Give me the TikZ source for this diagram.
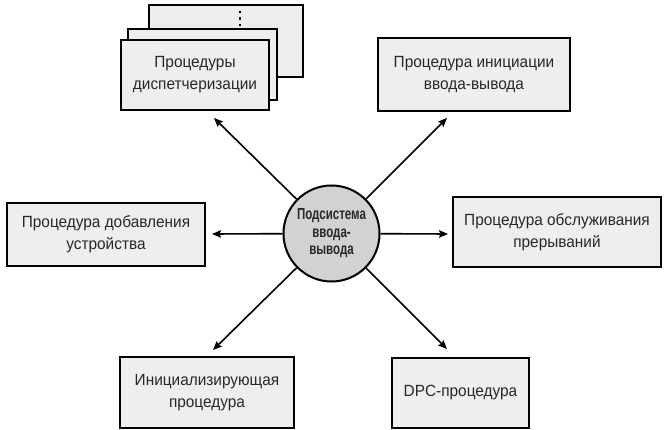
\documentclass[tikz,border=0pt]{standalone}
\usepackage{fontspec}
\setmainfont{Liberation Sans}
\usetikzlibrary{arrows.meta}
\definecolor{boxgray}{RGB}{238,238,238}
\definecolor{hubgray}{RGB}{210,210,210}
\definecolor{inkgray}{RGB}{40,40,40}
\begin{document}
\begin{tikzpicture}[x=1pt,y=-1pt,
  proc/.style={draw=black, line width=2pt, fill=boxgray, inner sep=0pt,
    align=center, text=inkgray,
    font=\addfontfeature{FakeStretch=0.95}\fontsize{16.2}{21.8}\selectfont},
  hub/.style={circle, draw=black, line width=2pt, fill=hubgray, inner sep=0pt,
    minimum size=96pt, align=center, text=inkgray,
    font=\addfontfeature{FakeStretch=0.72}\bfseries\fontsize{16}{17.5}\selectfont},
  link/.style={line width=1.6pt, -{Stealth[length=9pt,width=7.5pt,inset=1.5pt]}}]
\useasboundingbox (0,0) rectangle (664,430);

% stacked dispatch procedures
\node[proc, minimum width=154pt, minimum height=72pt] (disp3) at (226,41) {};
\foreach \y in {12,18.5,25} \fill[black] (239.2,\y-1.2) rectangle (240.8,\y+1.2);
\node[proc, minimum width=149pt, minimum height=71pt] (disp2) at (202.5,64.5) {};
\node[proc, minimum width=148pt, minimum height=70pt] (disp) at (195,75)
  {Процедуры\\диспетчеризации};

% remaining procedures
\node[proc, minimum width=192pt, minimum height=73pt] (init) at (474,74.5)
  {Процедура инициации\\ввода-вывода};
\node[proc, minimum width=198pt, minimum height=63pt] (add) at (106,234.5)
  {Процедура добавления\\устройства};
\node[proc, minimum width=208pt, minimum height=70pt] (isr) at (557,232)
  {Процедура обслуживания\\прерываний};
\node[proc, minimum width=174pt, minimum height=71pt] (drvinit) at (207,392.5)
  {Инициализирующая\\процедура};
\node[proc, minimum width=137pt, minimum height=70pt] (dpc) at (460.5,393)
  {DPC-процедура};

% central subsystem
\node[hub] (core) at (331.5,233.5) {Подсистема\\ввода-\\вывода};

% arrow ends
\coordinate (eTL) at (214,118);
\coordinate (eTR) at (447,118);
\coordinate (eL) at (212,234);
\coordinate (eR) at (448,234);
\coordinate (eBL) at (213,350);
\coordinate (eBR) at (447,349);

\foreach \e in {eTL,eTR,eL,eR,eBL,eBR} \draw[link] (core) -- (\e);
\end{tikzpicture}
\end{document}
